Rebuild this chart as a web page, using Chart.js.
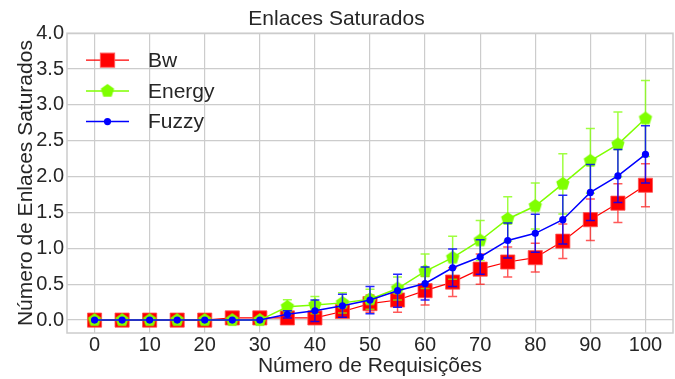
<!DOCTYPE html>
<html>
<head>
<meta charset="utf-8">
<script src="https://cdn.jsdelivr.net/npm/chart.js@4/dist/chart.umd.min.js"></script>
<style>
  html, body { margin: 0; padding: 0; background: #ffffff; }
  #wrap { width: 675px; height: 379px; }
</style>
</head>
<body>
<div id="wrap"><canvas id="c" width="675" height="379"></canvas></div>
<script>
// ---- data ----
const requisicoes = [0, 5, 10, 15, 20, 25, 30, 35, 40, 45, 50, 55, 60, 65, 70, 75, 80, 85, 90, 95, 100];
const bwValues     = [0, 0, 0, 0, 0, 0.03, 0.03, 0.03, 0.03, 0.12, 0.23, 0.28, 0.41, 0.53, 0.71, 0.81, 0.87, 1.10, 1.40, 1.63, 1.88];
const bwErrors     = [0, 0, 0, 0, 0, 0.03, 0.03, 0.04, 0.06, 0.07, 0.12, 0.17, 0.20, 0.20, 0.21, 0.21, 0.20, 0.24, 0.29, 0.27, 0.30];
const energyValues = [0, 0, 0, 0, 0, 0, 0, 0.185, 0.21, 0.24, 0.29, 0.44, 0.68, 0.87, 1.11, 1.41, 1.59, 1.90, 2.22, 2.45, 2.81];
const energyErrors = [0, 0, 0, 0, 0, 0, 0, 0.10, 0.12, 0.14, 0.14, 0.16, 0.24, 0.30, 0.28, 0.31, 0.32, 0.42, 0.45, 0.45, 0.53];
const fuzzyValues  = [0, 0, 0, 0, 0, 0, 0, 0.08, 0.13, 0.20, 0.28, 0.41, 0.51, 0.73, 0.88, 1.11, 1.21, 1.40, 1.78, 2.01, 2.31];
const fuzzyErrors  = [0, 0, 0, 0, 0, 0, 0, 0.05, 0.15, 0.16, 0.19, 0.23, 0.23, 0.26, 0.24, 0.245, 0.265, 0.34, 0.39, 0.37, 0.40];
const seriesNames  = ['Bw', 'Energy', 'Fuzzy'];
const xTickValues  = [0, 10, 20, 30, 40, 50, 60, 70, 80, 90, 100];
const yTickValues  = [0.0, 0.5, 1.0, 1.5, 2.0, 2.5, 3.0, 3.5, 4.0];
const chartTitle   = 'Enlaces Saturados';
const xTitle       = 'Número de Requisições';
const yTitle       = 'Número de Enlaces Saturados';

const FONT = "'Liberation Sans', Arial, sans-serif";
const TEXT = '#262626';
const GRID = '#cccccc';

function pentagonImage(r, color) {
  const s = Math.ceil(2 * r + 2);
  const c = document.createElement('canvas');
  c.width = s; c.height = s;
  const g = c.getContext('2d');
  g.beginPath();
  for (let i = 0; i < 5; i++) {
    const a = -Math.PI / 2 + i * 2 * Math.PI / 5;
    const px = s / 2 + r * Math.cos(a), py = s / 2 + r * Math.sin(a);
    if (i === 0) g.moveTo(px, py); else g.lineTo(px, py);
  }
  g.closePath();
  g.fillStyle = color;
  g.fill();
  return c;
}
const pentagon = pentagonImage(7, '#7fff00');

function pts(vals) { return requisicoes.map((x, i) => ({ x: x, y: vals[i] })); }

const errorBarPlugin = {
  id: 'errorBars',
  beforeDatasetDraw(chart, args) {
    const ds = chart.data.datasets[args.index];
    if (!ds.errors) return;
    const ctx = chart.ctx, ys = chart.scales.y, area = chart.chartArea;
    ctx.save();
    ctx.beginPath();
    ctx.rect(area.left, area.top, area.right - area.left, area.bottom - area.top);
    ctx.clip();
    ctx.strokeStyle = ds.errorColor;
    ctx.lineWidth = 1.5;
    args.meta.data.forEach((el, i) => {
      const e = ds.errors[i];
      if (!e) return;
      const v = ds.data[i].y;
      const top = ys.getPixelForValue(v + e), bot = ys.getPixelForValue(v - e);
      ctx.beginPath();
      ctx.moveTo(el.x, top); ctx.lineTo(el.x, bot);
      ctx.moveTo(el.x - 4.5, top); ctx.lineTo(el.x + 4.5, top);
      ctx.moveTo(el.x - 4.5, bot); ctx.lineTo(el.x + 4.5, bot);
      ctx.stroke();
    });
    ctx.restore();
  }
};

const framePlugin = {
  id: 'frame',
  beforeDatasetsDraw(chart) {
    const ctx = chart.ctx, a = chart.chartArea;
    ctx.save();
    ctx.strokeStyle = GRID;
    ctx.lineWidth = 1.5;
    ctx.strokeRect(a.left, a.top, a.right - a.left, a.bottom - a.top);
    ctx.restore();
  }
};

const legendPlugin = {
  id: 'innerLegend',
  afterDraw(chart) {
    const ctx = chart.ctx, a = chart.chartArea;
    ctx.save();
    chart.data.datasets.forEach((ds, i) => {
      const y = a.top + 27 + i * 30.7;
      const x0 = a.left + 19, x1 = a.left + 62, xm = (x0 + x1) / 2;
      ctx.strokeStyle = ds.borderColor;
      ctx.lineWidth = ds.borderWidth;
      ctx.beginPath(); ctx.moveTo(x0, y); ctx.lineTo(x1, y); ctx.stroke();
      ctx.fillStyle = ds.pointBackgroundColor;
      ctx.strokeStyle = ds.pointBorderColor;
      Chart.helpers.drawPoint(ctx, {
        pointStyle: ds.pointStyle, radius: ds.pointRadius, rotation: 0, borderWidth: ds.pointBorderWidth
      }, xm, y);
      ctx.fillStyle = TEXT;
      ctx.font = '21px ' + FONT;
      ctx.textBaseline = 'middle';
      ctx.textAlign = 'left';
      ctx.fillText(ds.label, a.left + 81, y + 1);
    });
    ctx.restore();
  }
};

new Chart(document.getElementById('c'), {
  type: 'line',
  data: {
    datasets: [
      {
        label: seriesNames[0], data: pts(bwValues), errors: bwErrors,
        borderColor: '#ff0000', borderWidth: 1.2, errorColor: 'rgba(255,0,0,0.65)',
        pointStyle: 'rect', pointRadius: 10, pointBackgroundColor: '#ff0000',
        pointBorderColor: 'rgba(255,80,80,0.8)', pointBorderWidth: 1, order: 3
      },
      {
        label: seriesNames[1], data: pts(energyValues), errors: energyErrors,
        borderColor: '#7fff00', borderWidth: 1.5, errorColor: 'rgba(127,255,0,0.75)',
        pointStyle: pentagon, pointRadius: 7, pointBackgroundColor: '#7fff00',
        pointBorderColor: '#7fff00', pointBorderWidth: 0, order: 2
      },
      {
        label: seriesNames[2], data: pts(fuzzyValues), errors: fuzzyErrors,
        borderColor: '#0000ff', borderWidth: 1.5, errorColor: 'rgba(0,0,255,0.85)',
        pointStyle: 'circle', pointRadius: 3.6, pointBackgroundColor: '#0000ff',
        pointBorderColor: '#0000ff', pointBorderWidth: 0, order: 1
      }
    ]
  },
  options: {
    responsive: false,
    animation: false,
    events: [],
    layout: { autoPadding: false, padding: { left: 0, right: 2, top: 0, bottom: 0 } },
    plugins: {
      legend: { display: false },
      tooltip: { enabled: false },
      title: {
        display: true, text: chartTitle, color: TEXT,
        font: { family: FONT, size: 21, weight: 'normal' },
        padding: { top: 7, bottom: 1 }
      }
    },
    scales: {
      x: {
        type: 'linear', min: -5, max: 105,
        afterBuildTicks: s => { s.ticks = xTickValues.map(v => ({ value: v })); },
        afterFit: s => { s.height = 46; s.paddingLeft = 0; s.paddingRight = 0; },
        grid: { color: GRID, lineWidth: 1.2, drawTicks: false },
        border: { display: false },
        ticks: { color: TEXT, font: { family: FONT, size: 20 }, padding: 0, maxRotation: 0, autoSkip: false,
                 callback: v => String(v) },
        title: { display: true, text: xTitle, color: TEXT, font: { family: FONT, size: 21 }, padding: { top: 0, bottom: 0 } }
      },
      y: {
        min: -0.18, max: 4.0,
        afterBuildTicks: s => { s.ticks = yTickValues.map(v => ({ value: v })); },
        afterFit: s => { s.width = 67; s.paddingTop = 0; s.paddingBottom = 0; },
        grid: { color: GRID, lineWidth: 1.2, drawTicks: false },
        border: { display: false },
        ticks: { color: TEXT, font: { family: FONT, size: 20 }, padding: 3, autoSkip: false,
                 callback: v => Number(v).toFixed(1) },
        title: { display: true, text: yTitle, color: TEXT, font: { family: FONT, size: 21 }, padding: { top: 14, bottom: 0 } }
      }
    }
  },
  plugins: [framePlugin, errorBarPlugin, legendPlugin]
});
</script>
</body>
</html>
